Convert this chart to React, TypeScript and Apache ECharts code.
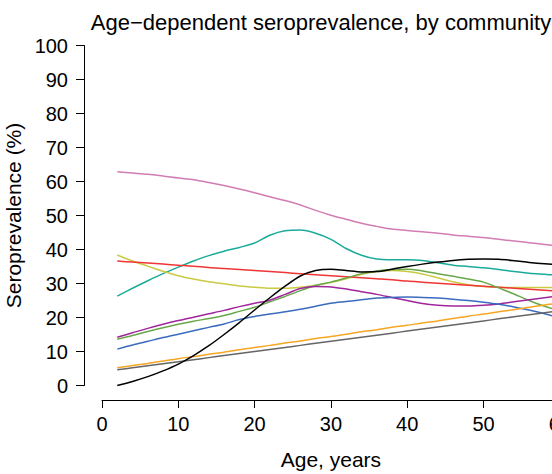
import React, { useEffect, useRef } from "react";
import * as echarts from "echarts";

const ages = [2, 4, 6, 8, 10, 12, 14, 16, 18, 20, 22, 24, 26, 28, 30, 32, 34, 36, 38, 40, 42, 44, 46, 48, 50, 52, 54, 56, 58, 60, 62];

const pink = [62.9, 62.5, 62.1, 61.6, 61.0, 60.5, 59.7, 58.8, 57.8, 56.7, 55.5, 54.4, 53.1, 51.5, 50.1, 48.9, 47.7, 46.8, 46.0, 45.6, 45.2, 44.8, 44.3, 43.9, 43.5, 43.0, 42.5, 42.0, 41.5, 41.0, 40.5];
const teal = [26.3, 28.6, 30.8, 32.9, 34.8, 36.6, 38.2, 39.5, 40.6, 41.9, 44.2, 45.5, 45.7, 44.8, 43.0, 40.3, 38.3, 37.2, 37.0, 37.0, 36.8, 36.1, 35.4, 35.0, 34.6, 34.1, 33.5, 33.0, 32.7, 32.4, 32.2];
const red = [36.6, 36.3, 36.0, 35.7, 35.4, 35.1, 34.7, 34.4, 34.1, 33.8, 33.5, 33.2, 32.9, 32.6, 32.3, 32.0, 31.7, 31.4, 31.1, 30.7, 30.4, 30.1, 29.8, 29.5, 29.2, 28.9, 28.6, 28.3, 28.0, 27.7, 27.4];
const yellow = [38.4, 36.6, 35.1, 33.6, 32.3, 31.3, 30.5, 29.9, 29.3, 28.9, 28.6, 28.6, 28.9, 29.5, 30.3, 31.4, 32.7, 33.5, 33.8, 33.5, 32.8, 31.7, 30.5, 29.6, 29.1, 28.9, 28.8, 28.8, 28.8, 28.8, 28.8];
const black = [0.0, 1.2, 2.6, 4.3, 6.3, 8.8, 11.7, 15.0, 18.5, 22.2, 25.8, 29.2, 32.2, 33.8, 34.2, 33.8, 33.4, 33.5, 34.2, 35.0, 35.7, 36.3, 36.8, 37.1, 37.2, 37.1, 36.7, 36.2, 35.8, 35.5, 35.3];
const green = [13.6, 14.7, 15.9, 17.0, 18.0, 18.9, 19.7, 20.6, 21.8, 23.0, 24.6, 26.2, 27.9, 29.4, 30.4, 31.6, 32.9, 33.7, 34.1, 34.2, 33.7, 32.9, 32.1, 31.3, 30.4, 28.7, 26.9, 25.0, 23.3, 22.0, 20.8];
const purple = [14.2, 15.5, 16.8, 18.0, 19.1, 20.1, 21.1, 22.1, 23.2, 24.2, 25.1, 26.8, 28.5, 29.1, 29.0, 28.4, 27.6, 26.8, 25.9, 25.0, 24.1, 23.6, 23.4, 23.4, 23.6, 24.0, 24.6, 25.2, 25.8, 26.4, 27.0];
const blue = [10.7, 11.9, 13.0, 14.1, 15.1, 16.1, 17.1, 18.1, 19.4, 20.3, 21.0, 21.7, 22.4, 23.3, 24.2, 24.7, 25.2, 25.7, 25.9, 26.0, 25.9, 25.7, 25.4, 25.0, 24.5, 23.9, 23.1, 22.2, 21.1, 19.9, 18.7];
const orange = [5.2, 5.9, 6.5, 7.2, 7.9, 8.5, 9.2, 9.8, 10.5, 11.2, 11.8, 12.5, 13.1, 13.8, 14.4, 15.1, 15.8, 16.4, 17.1, 17.7, 18.4, 19.0, 19.7, 20.4, 21.0, 21.7, 22.3, 23.0, 23.7, 24.3, 25.0];
const gray = [4.6, 5.2, 5.8, 6.4, 7.0, 7.6, 8.2, 8.8, 9.4, 10.0, 10.6, 11.2, 11.8, 12.4, 13.0, 13.6, 14.2, 14.8, 15.4, 16.0, 16.6, 17.2, 17.8, 18.4, 19.0, 19.6, 20.2, 20.8, 21.4, 22.0, 22.6];

const seriesList = [
  { name: "pink", values: pink, color: "#D17DB3" },
  { name: "teal", values: teal, color: "#1AAB9B" },
  { name: "yellow", values: yellow, color: "#CACA45" },
  { name: "red", values: red, color: "#F03535" },
  { name: "green", values: green, color: "#68A84A" },
  { name: "purple", values: purple, color: "#A0269C" },
  { name: "blue", values: blue, color: "#3A6BBE" },
  { name: "orange", values: orange, color: "#F5A623" },
  { name: "gray", values: gray, color: "#666666" },
  { name: "black", values: black, color: "#000000" },
];

const FONT = "'Liberation Sans', Arial, Helvetica, sans-serif";

export default function App() {
  const ref = useRef<HTMLDivElement>(null);
  useEffect(() => {
    if (!ref.current) return;
    const chart = echarts.init(ref.current, null, { renderer: "svg" });
    chart.setOption({
      animation: false,
      backgroundColor: "#ffffff",
      title: {
        text: "Age\u2212dependent seroprevalence, by community",
        left: 316,
        top: 6,
        textAlign: "center",
        textStyle: { fontFamily: FONT, fontSize: 22, fontWeight: "normal", color: "#000" },
      },
      grid: { left: 102, top: 45.5, width: 457.8, height: 340, outerBoundsMode: "none", containLabel: false },
      xAxis: {
        type: "value",
        min: 0,
        max: 60,
        interval: 10,
        offset: 14.5,
        name: "Age, years",
        nameLocation: "middle",
        nameGap: 49,
        nameTextStyle: { fontFamily: FONT, fontSize: 21, color: "#000" },
        axisLine: { show: true, onZero: false, lineStyle: { color: "#000", width: 1 } },
        axisTick: { show: true, length: 8, lineStyle: { color: "#000", width: 1 } },
        axisLabel: { fontFamily: FONT, fontSize: 20, color: "#000", margin: 14, showMaxLabel: true, hideOverlap: false },
        splitLine: { show: false },
      },
      yAxis: {
        type: "value",
        min: 0,
        max: 100,
        interval: 10,
        offset: 18,
        name: "Seroprevalence (%)",
        nameLocation: "middle",
        nameGap: 55,
        nameRotate: 90,
        nameTextStyle: { fontFamily: FONT, fontSize: 21, color: "#000" },
        axisLine: { show: true, onZero: false, lineStyle: { color: "#000", width: 1 } },
        axisTick: { show: true, length: 8, lineStyle: { color: "#000", width: 1 } },
        axisLabel: { fontFamily: FONT, fontSize: 20, color: "#000", margin: 16 },
        splitLine: { show: false },
      },
      series: seriesList.map((s) => ({
        name: s.name,
        type: "line",
        data: ages.map((a, i) => [a, s.values[i]]),
        smooth: 0.3,
        showSymbol: false,
        clip: false,
        lineStyle: { color: s.color, width: 1.5 },
        itemStyle: { color: s.color },
      })),
    });
    return () => chart.dispose();
  }, []);
  return (
    <div
      ref={ref}
      style={{ position: "fixed", left: 0, top: 0, width: 552, height: 474 }}
    />
  );
}
